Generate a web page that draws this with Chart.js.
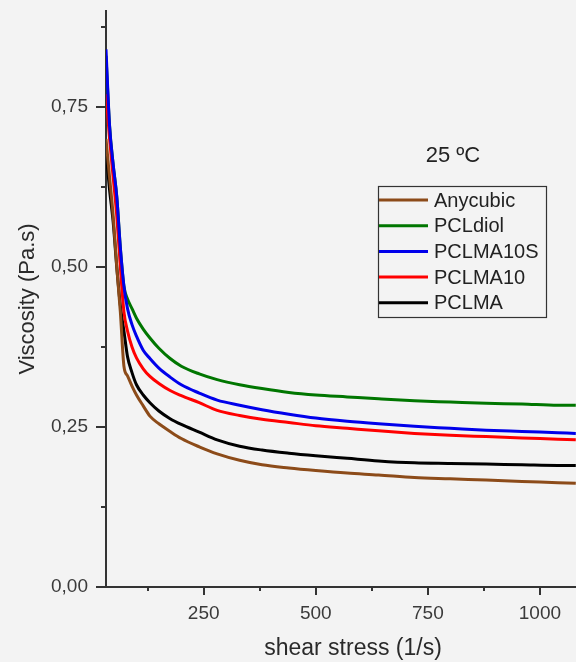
<!DOCTYPE html>
<html>
<head>
<meta charset="utf-8">
<script src="https://cdn.jsdelivr.net/npm/chart.js@4/dist/chart.umd.min.js"></script>
<style>
  html, body { margin: 0; padding: 0; background: #f3f3f3; }
  #wrap { width: 576px; height: 662px; overflow: hidden; }
</style>
</head>
<body>
<div id="wrap"><canvas id="viscChart" width="600" height="662"></canvas></div>
<script>
// shear rate (1/s)
var shear = [32, 40, 48, 56, 64, 72, 80, 90, 100, 115, 130, 150, 175, 200, 240, 280, 330, 380, 440, 500, 570, 640, 720, 800, 880, 960, 1040, 1080];

// viscosity (Pa.s) for each resin
var anycubic = [0.70, 0.64, 0.58, 0.50, 0.43, 0.345, 0.33, 0.314, 0.300, 0.283, 0.267, 0.255, 0.243, 0.232, 0.219, 0.208, 0.198, 0.191, 0.186, 0.182, 0.178, 0.175, 0.171, 0.169, 0.167, 0.165, 0.163, 0.162];
var pclDiol  = [0.83, 0.72, 0.66, 0.61, 0.53, 0.47, 0.45, 0.435, 0.42, 0.403, 0.389, 0.373, 0.357, 0.345, 0.333, 0.324, 0.316, 0.310, 0.304, 0.300, 0.297, 0.294, 0.291, 0.289, 0.287, 0.286, 0.284, 0.284];
var pclma10s = [0.84, 0.72, 0.66, 0.61, 0.53, 0.47, 0.435, 0.41, 0.392, 0.370, 0.357, 0.342, 0.328, 0.316, 0.303, 0.292, 0.284, 0.277, 0.270, 0.264, 0.259, 0.255, 0.251, 0.248, 0.245, 0.243, 0.241, 0.240];
var pclma10  = [0.77, 0.70, 0.64, 0.58, 0.50, 0.43, 0.40, 0.375, 0.358, 0.341, 0.329, 0.318, 0.307, 0.299, 0.288, 0.276, 0.268, 0.262, 0.257, 0.252, 0.248, 0.244, 0.240, 0.237, 0.235, 0.233, 0.231, 0.230];
var pclma    = [0.68, 0.62, 0.57, 0.50, 0.44, 0.40, 0.36, 0.335, 0.316, 0.300, 0.288, 0.275, 0.263, 0.254, 0.242, 0.230, 0.220, 0.214, 0.209, 0.205, 0.201, 0.197, 0.194, 0.193, 0.192, 0.191, 0.190, 0.190];

var xTicks = [250, 500, 750, 1000];
var xMinor = [125, 375, 625, 875];
var yTicks = [0, 0.25, 0.5, 0.75];
var yMinor = [0.125, 0.375, 0.625, 0.875];

function pts(ys) {
    return shear.map(function (x, i) { return {x: x, y: ys[i]}; });
}

function series(label, ys, color, order) {
    return {
        label: label,
        data: pts(ys),
        borderColor: color,
        backgroundColor: color,
        borderWidth: 3,
        pointRadius: 0,
        fill: false,
        order: order,
        cubicInterpolationMode: "monotone"
    };
}

var axisColor = "#333";
var fontFam = "'Liberation Sans', Arial, sans-serif";

// tick marks outside the axes, major and minor
var tickMarks = {
    id: "tickMarks",
    afterDraw: function (chart) {
        var ctx = chart.ctx, xs = chart.scales.x, ys = chart.scales.y;
        var area = chart.chartArea;
        ctx.save();
        ctx.strokeStyle = axisColor;
        ctx.lineWidth = 2;
        ctx.beginPath();
        yTicks.forEach(function (v) {
            var p = Math.round(ys.getPixelForValue(v));
            ctx.moveTo(area.left - 10, p); ctx.lineTo(area.left, p);
        });
        yMinor.forEach(function (v) {
            var p = Math.round(ys.getPixelForValue(v));
            ctx.moveTo(area.left - 5, p); ctx.lineTo(area.left, p);
        });
        xTicks.forEach(function (v) {
            var p = Math.round(xs.getPixelForValue(v));
            ctx.moveTo(p, area.bottom); ctx.lineTo(p, area.bottom + 8);
        });
        xMinor.forEach(function (v) {
            var p = Math.round(xs.getPixelForValue(v));
            ctx.moveTo(p, area.bottom); ctx.lineTo(p, area.bottom + 4);
        });
        ctx.stroke();
        ctx.restore();
    }
};

// boxed legend and temperature note inside the plot
var boxLegend = {
    id: "boxLegend",
    afterDraw: function (chart) {
        var ctx = chart.ctx;
        var sets = chart.data.datasets;
        var bx = 378, by = 186, bw = 168, bh = 131;
        ctx.save();
        ctx.fillStyle = "#222";
        ctx.font = "22px " + fontFam;
        ctx.textAlign = "center";
        ctx.textBaseline = "middle";
        ctx.fillText("25 \u00baC", 453, 156);

        ctx.strokeStyle = "#333";
        ctx.lineWidth = 1.2;
        ctx.strokeRect(bx + 0.5, by + 0.5, bw, bh);

        ctx.font = "20px " + fontFam;
        ctx.textAlign = "left";
        sets.forEach(function (ds, i) {
            var y = 200 + i * 25.7;
            ctx.strokeStyle = ds.borderColor;
            ctx.lineWidth = 3;
            ctx.beginPath();
            ctx.moveTo(bx + 1, y);
            ctx.lineTo(bx + 50, y);
            ctx.stroke();
            ctx.fillStyle = "#222";
            ctx.fillText(ds.label, bx + 56, y + 1);
        });
        ctx.restore();
    }
};

var viscChart = new Chart(document.getElementById("viscChart"), {
    type: "line",
    data: {
        datasets: [
            series("Anycubic", anycubic, "rgb(140, 75, 25)", 2),
            series("PCLdiol", pclDiol, "rgb(0, 118, 0)", 4),
            series("PCLMA10S", pclma10s, "rgb(0, 0, 235)", 0),
            series("PCLMA10", pclma10, "rgb(255, 0, 0)", 1),
            series("PCLMA", pclma, "rgb(0, 0, 0)", 3)
        ]
    },
    options: {
        responsive: false,
        animation: false,
        layout: {padding: {top: 11, right: 0, left: 0, bottom: 0}},
        plugins: {legend: {display: false}, tooltip: {enabled: false}},
        scales: {
            x: {
                type: "linear",
                min: 32,
                max: 1134,
                afterFit: function (s) {
                    s.height = 75;
                    s.paddingLeft = 0;
                    s.paddingRight = 0;
                },
                afterBuildTicks: function (s) { s.ticks = xTicks.map(function (v) { return {value: v}; }); },
                grid: {display: true, drawOnChartArea: false, drawTicks: false},
                border: {display: true, color: axisColor, width: 2},
                ticks: {
                    padding: 15,
                    color: "#3a3a3a",
                    font: {family: fontFam, size: 19},
                    maxRotation: 0,
                    callback: function (v) { return String(v); }
                },
                title: {
                    display: true,
                    text: "shear stress (1/s)",
                    color: "#2a2a2a",
                    font: {family: fontFam, size: 23},
                    padding: {top: 0, bottom: 0}
                }
            },
            y: {
                min: 0,
                max: 0.9,
                afterFit: function (s) {
                    s.width = 106;
                    s.paddingTop = 0;
                    s.paddingBottom = 0;
                },
                afterBuildTicks: function (s) { s.ticks = yTicks.map(function (v) { return {value: v}; }); },
                grid: {display: true, drawOnChartArea: false, drawTicks: false},
                border: {display: true, color: axisColor, width: 2},
                ticks: {
                    padding: 18,
                    color: "#3a3a3a",
                    font: {family: fontFam, size: 19},
                    callback: function (v) { return v.toFixed(2).replace(".", ","); }
                },
                title: {
                    display: true,
                    text: "Viscosity (Pa.s)",
                    color: "#2a2a2a",
                    font: {family: fontFam, size: 22},
                    padding: {top: 15, bottom: 0}
                }
            }
        }
    },
    plugins: [tickMarks, boxLegend]
});
</script>
</body>
</html>
